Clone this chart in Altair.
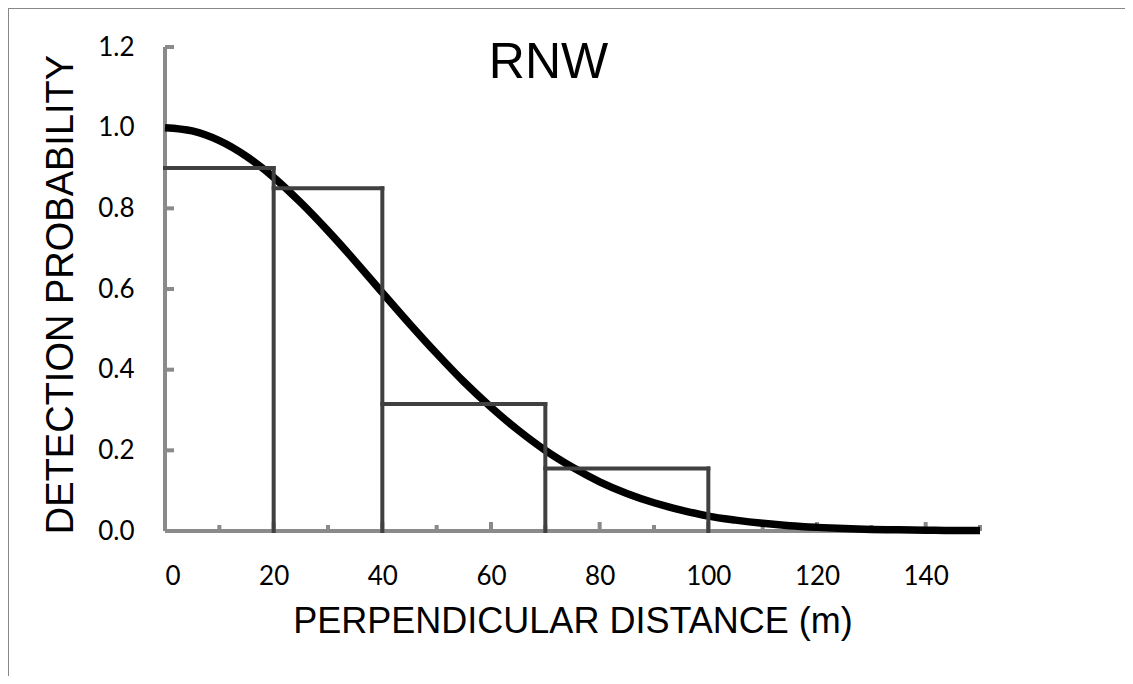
import altair as alt
import pandas as pd

# ---- data ----
chart_title = "RNW"
bin_start = [0, 20, 40, 70]
bin_end = [20, 40, 70, 100]
bin_height = [0.90, 0.85, 0.315, 0.155]

curve_x = [0, 5, 10, 15, 20, 25, 30, 35, 40, 45, 50, 55, 60, 65, 70, 75,
           80, 85, 90, 95, 100, 105, 110, 115, 120, 125, 130, 135, 140, 145, 150]
curve_y = [1.000, 0.992, 0.968, 0.929, 0.877, 0.814, 0.744, 0.669, 0.591, 0.514,
           0.440, 0.370, 0.307, 0.250, 0.200, 0.158, 0.122, 0.093, 0.070, 0.052,
           0.037, 0.027, 0.019, 0.013, 0.009, 0.006, 0.004, 0.003, 0.002, 0.001, 0.001]

x_labels = [0, 20, 40, 60, 80, 100, 120, 140]
x_major_ticks = [20, 40, 60, 80, 100, 120, 140]
x_minor_ticks = [10, 30, 50, 70, 90, 110, 130, 150]
y_labels = [0.0, 0.2, 0.4, 0.6, 0.8, 1.0, 1.2]
y_ticks = [0.2, 0.4, 0.6, 0.8, 1.0, 1.2]

W, H = 815, 484
AXIS_GRAY = "#8a8a8a"
BAR_GRAY = "#404040"

bars = pd.DataFrame({"start": bin_start, "end": bin_end, "h": bin_height})
# vertical edges at each bin's right end: up to the taller neighbour
edge_h = [max(bin_height[i], bin_height[i + 1] if i + 1 < len(bin_height) else 0)
          for i in range(len(bin_height))]
edges = pd.DataFrame({"x": bin_end, "h": edge_h})
curve = pd.DataFrame({"x": curve_x, "y": curve_y})

xs = alt.Scale(domain=[0, 150], nice=False, zero=False)
ys = alt.Scale(domain=[0, 1.2], nice=False)

one = pd.DataFrame({"a": [0]})

# frame around the whole chart
frame_top = alt.Chart(one).mark_rule(color="#888888", strokeWidth=2).encode(
    x=alt.value(-157), x2=alt.value(968), y=alt.value(-39))
frame_left = alt.Chart(one).mark_rule(color="#888888", strokeWidth=2).encode(
    x=alt.value(-157), y=alt.value(-39), y2=alt.value(640))

# title text, overlaid inside the plot like the original
title_text = alt.Chart(one).mark_text(
    text=chart_title, font="Liberation Sans", fontSize=50, color="black",
    align="center", baseline="alphabetic").encode(
    x=alt.value(W / 2 - 24), y=alt.value(31))

# axis lines
x_line = alt.Chart(one).mark_rule(color=AXIS_GRAY, strokeWidth=4).encode(
    x=alt.value(0), x2=alt.value(W), y=alt.value(H))
y_line = alt.Chart(one).mark_rule(color=AXIS_GRAY, strokeWidth=4).encode(
    x=alt.value(0), y=alt.value(0), y2=alt.value(H))

x_axis = alt.Axis(
    values=x_labels, format="d", domain=False, ticks=False, grid=False,
    labelFont="Lato", labelFontSize=26, labelColor="black",
    labelPadding=32, title="PERPENDICULAR DISTANCE (m)",
    titleFont="Liberation Sans", titleFontSize=36, titleFontWeight="normal",
    titleColor="black", titleBaseline="alphabetic", titleY=101)
y_axis = alt.Axis(
    values=y_labels, format=".1f", domain=False, ticks=False, grid=False,
    labelFont="Lato", labelFontSize=26, labelColor="black",
    labelPadding=31, title="DETECTION PROBABILITY",
    titleFont="Liberation Sans", titleFontSize=38, titleFontWeight="normal",
    titleColor="black", titleBaseline="alphabetic", titleX=-93, titleY=247)

# inward tick marks
y_tick_marks = alt.Chart(pd.DataFrame({"v": y_ticks})).mark_rule(
    color=AXIS_GRAY, strokeWidth=4).encode(
    y=alt.Y("v:Q", scale=ys, axis=y_axis), x=alt.value(0), x2=alt.value(9))
x_major_marks = alt.Chart(pd.DataFrame({"v": x_major_ticks})).mark_rule(
    color=AXIS_GRAY, strokeWidth=4).encode(
    x=alt.X("v:Q", scale=xs, axis=x_axis), y=alt.value(H), y2=alt.value(H - 9))
x_minor_marks = alt.Chart(pd.DataFrame({"v": x_minor_ticks})).mark_rule(
    color=AXIS_GRAY, strokeWidth=4).encode(
    x=alt.X("v:Q", scale=xs, axis=x_axis), y=alt.value(H), y2=alt.value(H - 6))

# detection function curve
curve_layer = alt.Chart(curve).mark_line(
    color="black", strokeWidth=7.5, interpolate="monotone").encode(
    x=alt.X("x:Q", scale=xs, axis=x_axis),
    y=alt.Y("y:Q", scale=ys, axis=y_axis),
)

# histogram outline (tops and vertical edges)
bar_tops = alt.Chart(bars).mark_rule(
    color=BAR_GRAY, strokeWidth=4, strokeCap="square").encode(
    x=alt.X("start:Q", scale=xs, axis=x_axis), x2="end:Q",
    y=alt.Y("h:Q", scale=ys, axis=y_axis))
bar_edges = alt.Chart(edges).mark_rule(
    color=BAR_GRAY, strokeWidth=4, strokeCap="square").encode(
    x=alt.X("x:Q", scale=xs, axis=x_axis),
    y=alt.Y("h:Q", scale=ys, axis=y_axis), y2=alt.datum(0))

chart = alt.layer(
    frame_top, frame_left, x_line, y_line,
    y_tick_marks, x_major_marks, x_minor_marks,
    curve_layer, bar_tops, bar_edges, title_text,
).properties(
    width=W, height=H,
    autosize=alt.AutoSizeParams(type="none"),
    padding={"left": 157, "top": 39, "right": 145, "bottom": 145},
).configure(background="white").configure_view(stroke="transparent", strokeWidth=0)

chart.save("out.html", embed_options={"renderer": "svg", "actions": False})
